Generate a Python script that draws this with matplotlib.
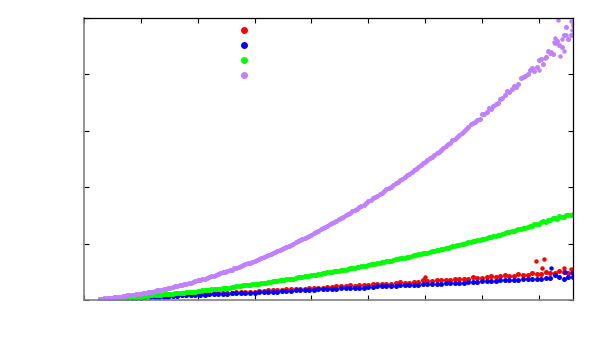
import numpy as np
import matplotlib
matplotlib.use("Agg")
import matplotlib.pyplot as plt
from matplotlib.lines import Line2D

# sample positions (x axis has no labels in the original)
x_fine = np.arange(140, 4301, 20)    # purple, green
x = np.arange(140, 4301, 40)         # red, blue

purple = [0.02, 0.02, 0.03, 0.03, 0.04, 0.04, 0.05, 0.05, 0.05, 0.06, 0.07, 0.07, 0.08, 0.08, 0.09, 0.09, 0.10, 0.11, 0.11, 0.12,
          0.13, 0.14, 0.14, 0.15, 0.16, 0.17, 0.18, 0.18, 0.19, 0.20, 0.21, 0.22, 0.23, 0.24, 0.25, 0.26, 0.27, 0.28, 0.29, 0.30,
          0.31, 0.32, 0.33, 0.35, 0.36, 0.37, 0.38, 0.39, 0.41, 0.42, 0.43, 0.45, 0.46, 0.47, 0.49, 0.50, 0.51, 0.53, 0.54, 0.56,
          0.57, 0.59, 0.60, 0.62, 0.63, 0.65, 0.66, 0.68, 0.70, 0.71, 0.73, 0.75, 0.76, 0.78, 0.80, 0.81, 0.83, 0.85, 0.87, 0.89,
          0.90, 0.92, 0.94, 0.96, 0.98, 1.00, 1.02, 1.04, 1.06, 1.08, 1.10, 1.12, 1.14, 1.16, 1.18, 1.20, 1.23, 1.25, 1.27, 1.29,
          1.31, 1.34, 1.36, 1.38, 1.40, 1.43, 1.45, 1.47, 1.50, 1.52, 1.55, 1.57, 1.60, 1.62, 1.64, 1.67, 1.69, 1.72, 1.75, 1.77,
          1.80, 1.82, 1.85, 1.88, 1.90, 1.93, 1.96, 1.98, 2.01, 2.04, 2.07, 2.10, 2.12, 2.15, 2.18, 2.21, 2.24, 2.27, 2.30, 2.33,
          2.36, 2.39, 2.42, 2.45, 2.48, 2.51, 2.54, 2.57, 2.60, 2.63, 2.66, 2.70, 2.73, 2.76, 2.79, 2.83, 2.86, 2.89, 2.92, 2.96,
          2.99, 3.03, 3.06, 3.12, 3.13, 3.16, 3.20, 3.21, 3.29, 3.30, 3.34, 3.40, 3.39, 3.44, 3.48, 3.49, 3.57, 3.59, 3.63, 3.70,
          3.68, 3.74, 3.80, 3.78, 3.83, 3.93, 3.96, 3.97, 4.00, 4.08, 4.12, 4.06, 4.13, 4.25, 4.28, 4.18, 4.30, 4.42, 4.38, 4.36,
          4.55, 4.60, 4.52, 4.48, 4.70, 4.84, 4.62, 4.70, 4.88]

green = [0.02, 0.02, 0.02, 0.02, 0.02, 0.03, 0.03, 0.03, 0.04, 0.04, 0.04, 0.04, 0.05, 0.05, 0.05, 0.06, 0.06, 0.06, 0.06, 0.07,
         0.07, 0.07, 0.08, 0.08, 0.08, 0.09, 0.09, 0.09, 0.10, 0.10, 0.11, 0.11, 0.11, 0.12, 0.12, 0.13, 0.13, 0.13, 0.14, 0.14,
         0.15, 0.15, 0.15, 0.16, 0.16, 0.17, 0.17, 0.18, 0.18, 0.19, 0.19, 0.19, 0.20, 0.20, 0.21, 0.21, 0.22, 0.22, 0.23, 0.23,
         0.24, 0.24, 0.25, 0.26, 0.26, 0.27, 0.27, 0.28, 0.28, 0.29, 0.29, 0.30, 0.31, 0.31, 0.32, 0.32, 0.33, 0.33, 0.34, 0.35,
         0.35, 0.36, 0.37, 0.37, 0.38, 0.38, 0.39, 0.40, 0.40, 0.41, 0.42, 0.42, 0.43, 0.44, 0.44, 0.45, 0.46, 0.46, 0.47, 0.48,
         0.49, 0.49, 0.50, 0.51, 0.51, 0.52, 0.53, 0.54, 0.54, 0.55, 0.56, 0.57, 0.57, 0.58, 0.59, 0.60, 0.60, 0.61, 0.62, 0.63,
         0.64, 0.64, 0.65, 0.66, 0.67, 0.68, 0.69, 0.69, 0.70, 0.71, 0.72, 0.73, 0.74, 0.75, 0.75, 0.76, 0.77, 0.78, 0.79, 0.80,
         0.81, 0.82, 0.83, 0.83, 0.84, 0.85, 0.86, 0.87, 0.88, 0.89, 0.90, 0.91, 0.92, 0.93, 0.94, 0.95, 0.96, 0.97, 0.98, 0.99,
         1.00, 1.01, 1.02, 1.03, 1.04, 1.05, 1.06, 1.07, 1.08, 1.09, 1.10, 1.11, 1.12, 1.13, 1.14, 1.15, 1.16, 1.17, 1.18, 1.20,
         1.21, 1.22, 1.23, 1.24, 1.26, 1.26, 1.27, 1.28, 1.30, 1.31, 1.31, 1.34, 1.34, 1.35, 1.38, 1.40, 1.39, 1.42, 1.42, 1.45,
         1.45, 1.44, 1.49, 1.48, 1.48, 1.50, 1.50, 1.50, 1.52]

red = [0.01, 0.02, 0.02, 0.03, 0.03, 0.03, 0.04, 0.04, 0.05, 0.05,
       0.05, 0.06, 0.06, 0.07, 0.07, 0.07, 0.08, 0.08, 0.09, 0.09,
       0.09, 0.10, 0.10, 0.11, 0.11, 0.12, 0.12, 0.12, 0.13, 0.13,
       0.14, 0.14, 0.15, 0.15, 0.15, 0.16, 0.16, 0.17, 0.17, 0.18,
       0.18, 0.19, 0.19, 0.19, 0.20, 0.20, 0.21, 0.21, 0.22, 0.22,
       0.23, 0.23, 0.24, 0.24, 0.25, 0.26, 0.25, 0.26, 0.26, 0.27,
       0.29, 0.28, 0.28, 0.29, 0.29, 0.30, 0.32, 0.31, 0.31, 0.32,
       0.32, 0.35, 0.33, 0.34, 0.36, 0.35, 0.35, 0.36, 0.38, 0.37,
       0.37, 0.38, 0.40, 0.39, 0.39, 0.40, 0.42, 0.41, 0.42, 0.44,
       0.43, 0.43, 0.46, 0.44, 0.45, 0.47, 0.46, 0.46, 0.49, 0.47,
       0.48, 0.51, 0.49, 0.48, 0.50]

blue = [0.01, 0.02, 0.02, 0.02, 0.03, 0.03, 0.03, 0.04, 0.04, 0.04,
        0.05, 0.05, 0.05, 0.06, 0.06, 0.06, 0.07, 0.07, 0.08, 0.08,
        0.08, 0.09, 0.09, 0.09, 0.10, 0.10, 0.10, 0.11, 0.11, 0.12,
        0.12, 0.12, 0.13, 0.13, 0.13, 0.14, 0.14, 0.14, 0.15, 0.15,
        0.16, 0.16, 0.16, 0.17, 0.17, 0.17, 0.18, 0.18, 0.19, 0.19,
        0.19, 0.20, 0.20, 0.21, 0.21, 0.21, 0.22, 0.22, 0.22, 0.23,
        0.23, 0.24, 0.24, 0.24, 0.25, 0.25, 0.26, 0.26, 0.26, 0.27,
        0.27, 0.28, 0.28, 0.28, 0.29, 0.29, 0.30, 0.30, 0.30, 0.31,
        0.31, 0.32, 0.32, 0.32, 0.33, 0.33, 0.34, 0.34, 0.35, 0.35,
        0.35, 0.36, 0.36, 0.37, 0.37, 0.37, 0.38, 0.38, 0.39, 0.39,
        0.44, 0.41, 0.37, 0.40, 0.41]

# stray points off the main bands
red_out_x = [2996, 3977, 4042, 4030, 4218, 4285]
red_out_y = [0.41, 0.70, 0.72, 0.57, 0.57, 0.555]
blue_out_x = [4104, 4232, 4290]
blue_out_y = [0.56, 0.50, 0.47]
purple_out_x = [4168, 4140, 4130, 4183, 4205, 4240, 4285, 4293, 4110, 4050, 3998, 4222]
purple_out_y = [4.96, 4.65, 4.58, 4.32, 4.63, 4.70, 4.94, 4.79, 4.39, 4.29, 4.07, 4.42]

colors = ["#ff0000", "#0000ff", "#00ff00", "#c080ff"]

fig = plt.figure(figsize=(6, 3.5), dpi=100)
ax = fig.add_axes([0.14, 0.1429, 0.815, 0.8057])

ms = 3.6
ax.plot(x, red, "o", color=colors[0], ms=ms, mew=0)
ax.plot(red_out_x, red_out_y, "o", color=colors[0], ms=3.2, mew=0)
ax.plot(x, blue, "o", color=colors[1], ms=ms, mew=0)
ax.plot(blue_out_x, blue_out_y, "o", color=colors[1], ms=3.2, mew=0)
ax.plot(x_fine, green, "o", color=colors[2], ms=ms, mew=0)
ax.plot(x_fine, purple, "o", color=colors[3], ms=ms, mew=0)
ax.plot(purple_out_x, purple_out_y, "o", color=colors[3], ms=3.2, mew=0)

ax.set_xlim(0, 4300)
ax.set_ylim(0, 5)
ax.set_xticks(np.arange(0, 4300, 500))
ax.set_yticks(np.arange(0, 5.1, 1))
ax.tick_params(direction="in", length=3.6, width=0.8, top=True, right=True,
               labelbottom=False, labelleft=False, colors="black")

for side in ["left", "bottom"]:
    ax.spines[side].set_color("#808080")
    ax.spines[side].set_linewidth(1.2)
for side in ["top", "right"]:
    ax.spines[side].set_color("black")
    ax.spines[side].set_linewidth(0.9)

handles = [Line2D([], [], ls="none", marker="o", ms=5, mew=0, color=c) for c in colors]
ax.legend(handles, [""] * 4, loc="upper left", bbox_to_anchor=(0.388, 0.941),
          bbox_transform=fig.transFigure, frameon=False, fontsize=8,
          handlelength=1, handletextpad=0, labelspacing=0.45, borderpad=0)

fig.savefig("out.png", dpi=100)
